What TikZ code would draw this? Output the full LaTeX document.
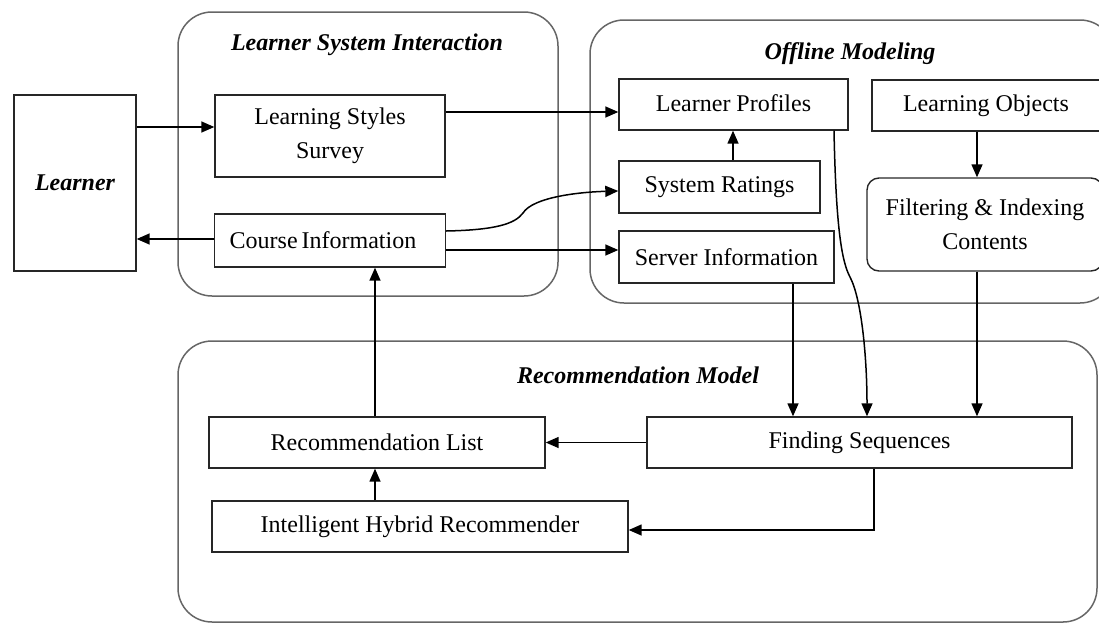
\documentclass[tikz,border=0pt]{standalone}
\usepackage{fontspec}
\setmainfont{Liberation Serif}
\usetikzlibrary{arrows.meta}
\begin{document}
\begin{tikzpicture}[x=1pt,y=-1pt,
  every node/.style={font=\fontsize{24}{34}\selectfont, inner sep=0pt},
  box/.style={draw=black!85, line width=1.4pt, align=center},
  group/.style={draw=black!60, line width=1.5pt, rounded corners=34pt},
  title/.style={font=\fontsize{24}{28}\selectfont\bfseries\itshape},
  link/.style={line width=1.5pt, -{Triangle[length=13pt,width=11pt]}},
  plain/.style={line width=1.4pt}]
\useasboundingbox (0,0) rectangle (1099,624);
\begin{scope}
\clip (0,0) rectangle (1099,624);
% grouping frames
\draw[group] (178,12) rectangle (558,296);
\draw[group] (590,20) rectangle (1114,303);
\draw[group] (178,341) rectangle (1097,622);
\node[title] (tLSI) at (367,45) {Learner System Interaction};
\node[title] (tOM) at (850,54) {Offline Modeling};
\node[title] (tRM) at (638,375) {Recommendation Model};

% boxes
\node[box, minimum width=122pt, minimum height=176pt] (learner) at (75,183) {\bfseries\itshape Learner};
\node[box, minimum width=230pt, minimum height=82pt] (lss) at (330,136) {Learning Styles\\Survey};
\node[box, minimum width=231pt, minimum height=53pt] (ci) at (330,240.5) {Course\,Information\hspace{14pt}};
\node[box, minimum width=229pt, minimum height=51pt] (lp) at (733.5,104.5) {\raisebox{3pt}{Learner Profiles}};
\node[box, minimum width=228pt, minimum height=51pt] (lo) at (986,105.5) {Learning Objects};
\node[box, minimum width=201pt, minimum height=52pt] (sr) at (719.5,187) {System Ratings};
\node[box, minimum width=215pt, minimum height=52pt] (si) at (726.5,257) {Server Information};
\node[box, rounded corners=12pt, minimum width=236pt, minimum height=93pt] (fic) at (985,224.5) {Filtering \& Indexing\\Contents};
\node[box, minimum width=336pt, minimum height=51pt] (rl) at (377,442.5) {Recommendation List};
\node[box, minimum width=425pt, minimum height=51pt] (fs) at (859.5,442.5) {Finding Sequences};
\node[box, minimum width=416pt, minimum height=51pt] (ihr) at (420,526.5) {Intelligent Hybrid Recommender};

% connectors
\draw[link] (learner.east |- 0,127) -- (lss.west |- 0,127);
\draw[link] (ci.west |- 0,239) -- (learner.east |- 0,239);
\draw[link] (lss.east |- 0,112) -- (lp.west |- 0,112);
\draw[link] (ci.east |- 0,231) .. controls (495,230) and (515,224) .. (523,213)
            .. controls (533,197) and (580,192) .. (sr.west |- 0,191);
\draw[link] (ci.east |- 0,250) -- (si.west |- 0,250);
\draw[link] (sr.north -| 733,0) -- (lp.south -| 733,0);
\draw[link] (lo.south -| 977,0) -- (fic.north -| 977,0);
\draw[link] (si.south -| 793,0) -- (fs.north -| 793,0);
\draw[link] (lp.south -| 834,0) .. controls (836,230) and (842,262) .. (850,277)
            .. controls (862,300) and (867,360) .. (fs.north -| 867,0);
\draw[link] (fic.south -| 977,0) -- (fs.north -| 977,0);
\draw[link] (fs.west) -- (rl.east);
\draw[link] (fs.south -| 874,0) |- (ihr.east |- 0,530);
\draw[link] (ihr.north -| 375,0) -- (rl.south -| 375,0);
\draw[link] (rl.north -| 375,0) -- (ci.south -| 375,0);
\end{scope}
\end{tikzpicture}
\end{document}
